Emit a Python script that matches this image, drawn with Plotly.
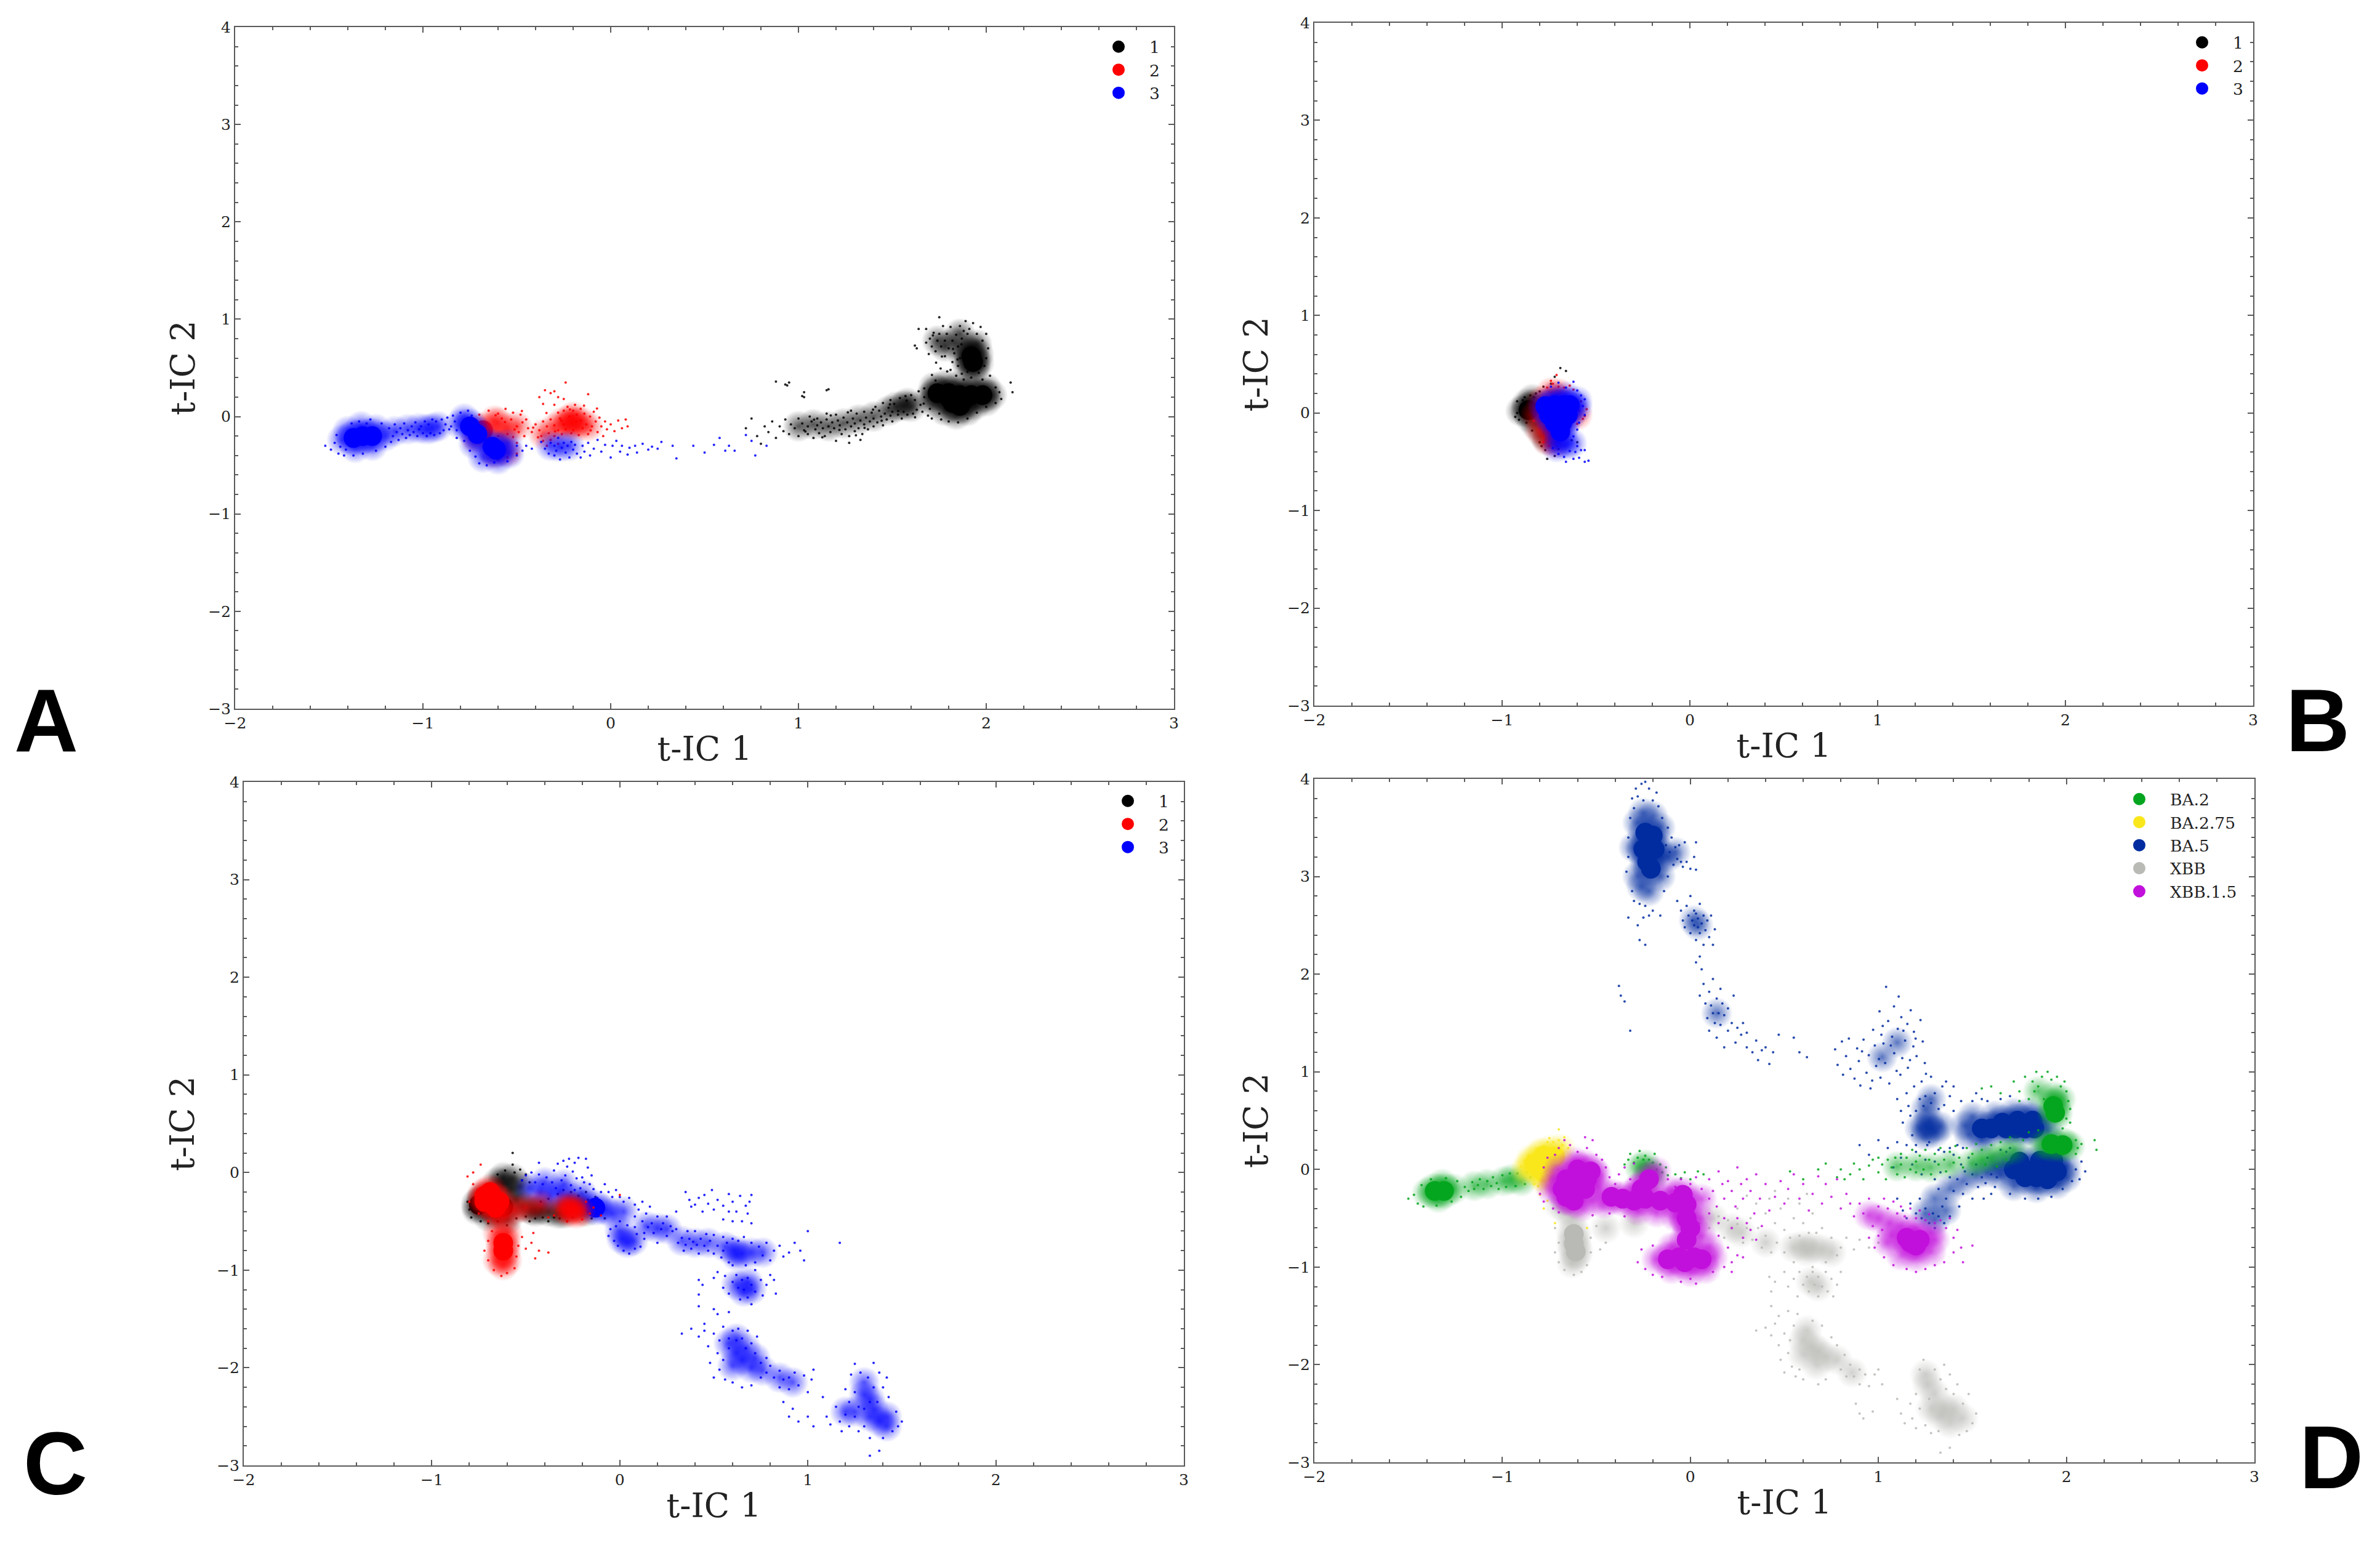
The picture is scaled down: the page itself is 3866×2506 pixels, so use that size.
import plotly.graph_objects as go

W, H = 3866, 2506
PAGE_MARGIN = 8
X_TICKS = [-2, -1, 0, 1, 2, 3]
Y_TICKS = [-3, -2, -1, 0, 1, 2, 3, 4]
LABELS_ABC = ["1", "2", "3"]
LABELS_D = ["BA.2", "BA.2.75", "BA.5", "XBB", "XBB.1.5"]

# ---------- Panel A (t-IC 1, t-IC 2) ----------
A1_CORE = [(1.74,0.24),(1.8,0.24),(1.86,0.22),(1.92,0.22),(1.98,0.22),(1.82,0.14),(1.86,0.11),(1.8,0.2),(1.88,0.17),(1.92,0.62),(1.93,0.56)]
A1_MID = [(1.7,0.2),(1.72,0.3),(1.78,0.33),(1.85,0.31),(1.93,0.3),(2.0,0.29),(2.03,0.22),(2.0,0.16),(1.94,0.12),(1.78,0.06),(1.84,0.02),(1.9,0.06),(1.72,0.14),
          (1.9,0.68),(1.92,0.72),(1.94,0.5),(1.9,0.5),(1.96,0.64),(1.96,0.55),(1.88,0.62),(1.95,0.74),(1.78,0.72),(1.83,0.76),(1.74,0.78),(1.86,0.85),
          (1.52,0.1),(1.56,0.11),(1.6,0.1),(1.58,0.14),(1.48,0.06),(1.4,0.0),(1.32,-0.03),(1.24,-0.07),(1.16,-0.1),(1.08,-0.08),(1.0,-0.1)]
A1_DOTS = [(0.88,0.36),(0.93,0.33),(0.95,0.35),(0.94,0.32),(1.02,0.21),(1.03,0.25),(1.15,0.27),(1.16,0.28),(1.03,0.2),
 (0.72,-0.12),(0.75,-0.02),(0.78,-0.2),(0.8,-0.28),(0.82,-0.1),(0.84,-0.16),(0.86,-0.05),(0.88,-0.22),(0.9,-0.1),(0.92,-0.15),(0.93,-0.03),(0.95,-0.18),(0.96,-0.08),(0.98,-0.12),
 (1.0,-0.02),(1.0,-0.2),(1.02,-0.07),(1.03,-0.14),(1.05,-0.1),(1.05,-0.18),(1.06,0.0),(1.07,-0.05),(1.08,-0.22),(1.09,-0.13),(1.1,-0.02),(1.1,-0.09),(1.11,-0.17),(1.12,-0.06),(1.13,-0.12),
 (1.14,-0.2),(1.15,0.03),(1.15,-0.03),(1.16,-0.1),(1.17,-0.16),(1.18,-0.06),(1.19,-0.12),(1.2,-0.25),(1.2,0.02),(1.21,-0.04),(1.22,-0.09),(1.23,-0.18),(1.24,-0.01),(1.25,-0.13),(1.26,-0.06),
 (1.27,-0.27),(1.27,-0.2),(1.28,0.06),(1.28,-0.1),(1.29,-0.02),(1.3,-0.15),(1.3,-0.07),(1.31,0.03),(1.32,-0.12),(1.33,-0.24),(1.33,-0.04),(1.34,-0.18),(1.35,-0.08),(1.35,0.05),(1.36,-0.01),
 (1.37,-0.13),(1.38,-0.05),(1.39,0.04),(1.4,-0.1),(1.4,-0.02),(1.41,0.1),(1.42,-0.06),(1.43,0.06),(1.44,0.0),(1.45,-0.09),(1.45,0.14),(1.46,0.03),(1.47,-0.03),(1.48,0.09),(1.49,0.01),(1.49,0.17),
 (1.5,0.05),(1.5,-0.05),(1.51,0.13),(1.53,0.02),(1.54,0.19),(1.55,-0.02),(1.56,0.05),(1.57,0.21),(1.58,0.02),(1.6,0.22),(1.61,0.03),(1.62,0.17),(1.63,0.07),(1.64,0.26),(1.65,0.12),(1.66,0.05),(1.67,0.29),(1.67,0.2),
 (1.69,0.01),(1.7,0.08),(1.71,-0.02),(1.73,0.37),(1.75,0.03),(1.76,-0.03),(1.8,-0.05),(1.85,-0.06),(1.9,-0.02),(1.95,0.04),(2.0,0.1),(2.05,0.14),(2.08,0.18),(2.05,0.3),(2.07,0.25),(2.13,0.35),(2.14,0.25),
 (1.62,0.73),(1.63,0.7),(1.64,0.9),(1.68,0.76),(1.68,0.9),(1.7,0.8),(1.71,0.72),(1.72,0.86),(1.73,0.67),(1.74,0.78),(1.75,0.85),(1.75,1.02),(1.76,0.72),(1.77,0.93),(1.78,0.62),(1.78,0.78),(1.79,0.85),
 (1.8,0.7),(1.81,0.48),(1.81,0.92),(1.82,0.56),(1.82,0.78),(1.83,0.65),(1.84,0.84),(1.84,0.42),(1.85,0.72),(1.85,0.52),(1.86,0.93),(1.86,0.6),(1.87,0.8),(1.87,0.44),(1.88,0.88),(1.88,0.38),(1.89,0.98),(1.9,0.46),(1.9,0.85),
 (1.91,0.9),(1.92,0.4),(1.93,0.96),(1.95,0.85),(1.96,0.45),(1.97,0.92),(1.98,0.78),(1.99,0.52),(2.0,0.6),(2.0,0.85),(2.01,0.7),(2.02,0.42),(1.98,0.38),
 (1.037,-0.153),(1.083,-0.031),(1.127,-0.213),(1.172,0.011),(1.218,-0.137),(1.263,0.043),(1.306,-0.193),(1.352,-0.116),(1.397,0.072),(1.443,-0.042),(1.487,0.126),(1.531,0.058),(1.576,0.163),(1.621,-0.007),(1.667,0.133),
 (1.711,0.427),(1.733,0.553),(1.764,0.617),(1.792,0.463),(1.823,0.694),(1.847,0.587),(1.868,0.742),(1.694,0.643),(1.716,0.834),(1.757,0.493)]
A2_CORE = [(-0.68,-0.14)]
A2_MID = [(-0.2,-0.06),(-0.18,-0.1),(-0.23,-0.1),(-0.22,-0.03),(-0.16,-0.05),(-0.26,-0.06),(-0.2,0.0),(-0.12,-0.1),(-0.3,-0.12),(-0.36,-0.18),(-0.6,-0.06),(-0.55,-0.12),(-0.5,-0.1),(-0.62,-0.38),(-0.55,-0.36),(-0.72,-0.22),(-0.62,-0.04),(-0.58,-0.2)]
A2_DOTS = [(-0.38,0.2),(-0.35,0.27),(-0.32,0.24),(-0.3,0.26),(-0.28,0.2),(-0.25,0.18),(-0.24,0.35),(-0.36,0.13),(-0.3,0.12),(-0.12,0.23),
 (-0.7,0.02),(-0.65,0.06),(-0.6,0.03),(-0.56,0.08),(-0.52,0.04),(-0.48,0.02),(-0.58,-0.02),(-0.53,-0.03),(-0.47,-0.06),(-0.5,-0.1),(-0.45,-0.03),(-0.44,-0.12),(-0.49,-0.16),(-0.46,-0.2),(-0.42,-0.16),(-0.52,-0.21),(-0.55,-0.18),(-0.6,-0.2),(-0.5,-0.27),
 (-0.4,-0.08),(-0.38,-0.14),(-0.36,-0.05),(-0.37,-0.2),(-0.34,-0.1),(-0.33,-0.17),(-0.32,-0.03),(-0.32,-0.24),(-0.3,-0.09),(-0.3,-0.2),(-0.28,-0.14),(-0.28,0.04),(-0.27,-0.02),(-0.26,-0.18),(-0.25,-0.08),(-0.25,0.06),(-0.24,-0.13),
 (-0.23,0.1),(-0.22,0.0),(-0.21,-0.17),(-0.2,0.06),(-0.2,-0.14),(-0.19,0.12),(-0.18,0.02),(-0.17,-0.19),(-0.16,-0.04),(-0.16,0.08),(-0.15,-0.12),(-0.14,0.03),(-0.13,-0.08),(-0.12,-0.18),(-0.11,0.0),(-0.1,-0.1),(-0.09,0.05),(-0.08,-0.05),
 (-0.07,-0.16),(-0.06,-0.01),(-0.05,-0.1),(-0.04,-0.2),(-0.03,-0.05),(-0.02,-0.13),(0.0,-0.08),(0.02,-0.15),(0.04,-0.04),(0.06,-0.12),(0.09,-0.1),(0.08,-0.03),(-0.36,-0.25),(-0.28,-0.28),(-0.34,-0.3),(-0.6,-0.44),(-0.55,-0.42),(-0.5,-0.38),
 (-0.413,-0.113),(-0.387,-0.213),(-0.342,0.037),(-0.296,-0.151),(-0.263,-0.043),(-0.217,0.073),(-0.183,-0.053),(-0.142,0.112),(-0.107,-0.142),(-0.073,0.083),(-0.512,-0.133),(-0.473,0.057),(-0.563,-0.057),(-0.613,0.013)]
A3_CORE = [(-1.37,-0.22),(-1.32,-0.2),(-1.27,-0.2),(-0.75,-0.1),(-0.71,-0.18),(-0.63,-0.31),(-0.61,-0.34)]
A3_MID = [(-1.43,-0.24),(-1.4,-0.15),(-1.33,-0.1),(-1.25,-0.13),(-1.2,-0.2),(-1.36,-0.32),(-1.27,-0.3),(-1.15,-0.15),(-1.08,-0.13),(-1.02,-0.12),(-0.95,-0.12),(-0.92,-0.1),(-0.98,-0.13),(-0.8,-0.08),(-0.78,-0.02),(-0.73,-0.28),(-0.55,-0.28),(-0.54,-0.38),(-0.68,-0.42),(-0.6,-0.44),(-0.27,-0.31),(-0.22,-0.3),(-0.32,-0.3)]
A3_DOTS = [(-1.52,-0.3),(-1.49,-0.34),(-1.47,-0.27),(-1.46,-0.19),(-1.45,-0.38),(-1.44,-0.31),(-1.42,-0.4),(-1.41,-0.34),(-1.38,-0.07),(-1.37,-0.4),(-1.34,-0.05),(-1.32,-0.38),(-1.3,-0.07),(-1.28,-0.03),(-1.25,-0.35),(-1.22,-0.07),(-1.2,-0.31),(-1.18,-0.12),(-1.17,-0.26),
 (-1.16,-0.2),(-1.15,-0.08),(-1.14,-0.16),(-1.13,-0.24),(-1.12,-0.12),(-1.11,-0.18),(-1.1,-0.07),(-1.09,-0.22),(-1.08,-0.14),(-1.07,-0.19),(-1.06,-0.1),(-1.05,-0.16),(-1.04,-0.06),(-1.03,-0.2),(-1.02,-0.13),(-1.01,-0.1),(-1.0,-0.17),(-0.99,-0.05),(-0.98,-0.2),(-0.97,-0.08),(-0.96,-0.17),(-0.95,-0.03),
 (-0.94,-0.19),(-0.93,-0.05),(-0.91,-0.17),(-0.9,-0.03),(-0.89,-0.14),(-0.88,-0.08),(-0.87,-0.01),(-0.86,-0.13),(-0.85,-0.1),(-0.84,0.01),(-0.83,-0.05),(-0.82,-0.14),(-0.8,0.04),(-0.76,0.06),(-0.74,0.01),(-0.82,-0.22),(-0.78,-0.25),(-0.75,-0.35),(-0.72,-0.41),(-0.7,-0.48),(-0.66,-0.5),(-0.62,-0.47),(-0.55,-0.46),(-0.5,-0.4),(-0.5,-0.3),(-0.47,-0.35),(-0.45,-0.3),(-0.42,-0.33),
 (-0.37,-0.26),(-0.35,-0.33),(-0.33,-0.38),(-0.32,-0.27),(-0.3,-0.4),(-0.3,-0.3),(-0.29,-0.35),(-0.28,-0.22),(-0.27,-0.44),(-0.26,-0.32),(-0.25,-0.27),(-0.24,-0.37),(-0.23,-0.3),(-0.22,-0.42),(-0.21,-0.26),(-0.2,-0.34),(-0.19,-0.29),(-0.18,-0.38),(-0.16,-0.42),(-0.15,-0.3),(-0.14,-0.36),(-0.12,-0.27),(-0.11,-0.4),(-0.09,-0.33),(-0.07,-0.24),(-0.05,-0.36),(-0.03,-0.29),
 (0.0,-0.42),(0.01,-0.3),(0.03,-0.25),(0.05,-0.36),(0.06,-0.3),(0.09,-0.39),(0.1,-0.32),(0.13,-0.3),(0.14,-0.37),(0.17,-0.28),(0.2,-0.34),(0.22,-0.31),(0.25,-0.33),(0.27,-0.26),(0.33,-0.3),(0.35,-0.43),(0.44,-0.3),(0.5,-0.37),(0.55,-0.29),(0.58,-0.22),(0.61,-0.35),(0.63,-0.3),(0.66,-0.35),(0.72,-0.19),(0.75,-0.25),(0.77,-0.4),(0.83,-0.3)]

# ---------- Panel B ----------
B1_CORE = [(-0.86,0.03)]
B1_MID = [(-0.87,0.09),(-0.83,0.09),(-0.9,0.02),(-0.85,-0.05),(-0.82,-0.12),(-0.78,-0.22),(-0.76,-0.27),(-0.84,0.14)]
B1_DOTS = [(-0.92,0.0),(-0.93,-0.04),(-0.92,0.12),(-0.91,-0.07),(-0.89,0.13),(-0.88,0.16),(-0.87,-0.1),(-0.85,0.18),(-0.83,0.16),(-0.82,0.2),(-0.8,0.22),(-0.78,0.27),(-0.72,0.37),(-0.69,0.46),(-0.66,0.43),(-0.74,0.3),(-0.84,-0.18),(-0.8,-0.3),(-0.79,-0.34),(-0.77,-0.38),(-0.76,-0.47),(-0.72,-0.44),(-0.7,-0.37),(-0.63,-0.28),(-0.6,-0.3)]
B2_CORE = [(-0.74,0.0),(-0.72,-0.14)]
B2_MID = [(-0.76,-0.28),(-0.72,-0.31),(-0.7,0.2),(-0.74,0.21),(-0.79,0.12),(-0.82,-0.02),(-0.8,-0.17),(-0.6,-0.02)]
B2_DOTS = [(-0.76,0.26),(-0.73,0.3),(-0.7,0.27),(-0.67,0.26),(-0.64,0.28),(-0.62,0.24),(-0.71,0.39),(-0.74,0.33),(-0.58,0.12),(-0.55,0.04),(-0.57,-0.06),(-0.6,-0.11),(-0.56,-0.03),(-0.59,0.02),(-0.83,-0.08),(-0.78,-0.3),(-0.75,-0.34),(-0.7,-0.28)]
B3_CORE = [(-0.77,0.07),(-0.72,0.08),(-0.67,0.08),(-0.64,0.08),(-0.75,-0.02),(-0.7,-0.01),(-0.65,-0.02),(-0.72,-0.1),(-0.68,-0.1),(-0.69,-0.19)]
B3_MID = [(-0.7,-0.3),(-0.66,-0.33),(-0.63,-0.31),(-0.71,-0.35),(-0.6,0.05),(-0.6,0.12),(-0.72,0.16),(-0.66,0.17)]
B3_DOTS = [(-0.74,0.27),(-0.7,0.31),(-0.66,0.26),(-0.62,0.32),(-0.6,0.23),(-0.58,0.18),(-0.56,0.14),(-0.57,0.07),(-0.56,-0.02),(-0.59,-0.1),(-0.6,-0.17),(-0.62,-0.24),(-0.73,-0.36),(-0.7,-0.42),(-0.67,-0.45),(-0.64,-0.39),(-0.61,-0.4),(-0.58,-0.38),(-0.62,-0.47),(-0.59,-0.46),(-0.56,-0.38),(-0.56,-0.5),(-0.54,-0.49),(-0.66,-0.5),(-0.6,-0.34)]

# ---------- Panel C ----------
C1_CORE = [(-0.72,-0.27),(-0.62,-0.35),(-0.75,-0.33)]
C1_MID = [(-0.76,-0.38),(-0.7,-0.45),(-0.62,-0.12),(-0.58,-0.18),(-0.55,-0.28),(-0.62,-0.05),(-0.57,-0.06),(-0.66,-0.43),(-0.6,-0.48),(-0.52,-0.35),(-0.47,-0.38),(-0.42,-0.38),(-0.38,-0.4),(-0.22,-0.32),(-0.3,-0.42),(-0.65,-0.1),(-0.53,-0.14),(-0.45,-0.4),(-0.33,-0.42),(-0.26,-0.35),(-0.18,-0.4)]
C1_DOTS = [(-0.57,0.2),(-0.57,0.08),(-0.65,-0.02),(-0.61,0.02),(-0.56,0.0),(-0.53,0.03),(-0.52,-0.08),(-0.5,-0.02),(-0.48,-0.1),(-0.8,-0.38),(-0.81,-0.3),(-0.79,-0.46),(-0.74,-0.5),(-0.7,-0.52),(-0.65,-0.5),(-0.6,-0.54),(-0.55,-0.47),(-0.5,-0.45),(-0.48,-0.5),(-0.45,-0.47),(-0.41,-0.46),(-0.38,-0.5),(-0.35,-0.46),(-0.32,-0.47),(-0.28,-0.5),(-0.25,-0.46),(-0.42,-0.3),(-0.38,-0.27),(-0.33,-0.22),(-0.3,-0.18),(-0.26,-0.2),(-0.22,-0.24),(-0.17,-0.28),(-0.17,-0.4),(-0.15,-0.47),(-0.12,-0.33),(-0.1,-0.42),(-0.08,-0.47),(-0.13,-0.25),(-0.18,-0.2)]
C2_CORE = [(-0.72,-0.24),(-0.68,-0.27),(-0.64,-0.3),(-0.72,-0.3),(-0.62,-0.72),(-0.62,-0.8),(-0.69,-0.2),(-0.66,-0.36)]
C2_MID = [(-0.66,-0.42),(-0.61,-0.44),(-0.56,-0.38),(-0.5,-0.36),(-0.42,-0.33),(-0.3,-0.37),(-0.26,-0.38),(-0.24,-0.36),(-0.27,-0.41),(-0.21,-0.4),(-0.65,-0.62),(-0.6,-0.62),(-0.65,-0.9),(-0.6,-0.9),(-0.62,-0.95),(-0.28,-0.33),(-0.23,-0.42)]
C2_DOTS = [(-0.74,0.08),(-0.78,0.0),(-0.81,-0.04),(-0.78,-0.12),(-0.8,-0.3),(-0.75,-0.42),(-0.7,-0.5),(-0.68,-0.6),(-0.7,-0.7),(-0.72,-0.8),(-0.7,-0.9),(-0.67,-1.0),(-0.63,-1.06),(-0.6,-1.03),(-0.56,-0.98),(-0.55,-0.86),(-0.54,-0.75),(-0.52,-0.66),(-0.5,-0.78),(-0.47,-0.72),(-0.46,-0.62),(-0.43,-0.8),(-0.45,-0.88),(-0.38,-0.82),(-0.38,-0.46),(-0.35,-0.44),(-0.18,-0.3),(-0.16,-0.42),(-0.14,-0.36),(-0.1,-0.44),(-0.2,-0.48),(-0.28,-0.5),(0.0,-0.23)]
C3_CORE = [(-0.13,-0.36)]
C3_MID = [(-0.48,-0.16),(-0.42,-0.2),(-0.37,-0.24),(-0.32,-0.2),(-0.27,-0.25),(-0.4,-0.1),(-0.3,-0.12),(-0.2,-0.22),(-0.18,-0.33),(-0.08,-0.38),(-0.04,-0.42),(0.02,-0.4),(0.0,-0.6),(0.01,-0.68),(0.04,-0.72),(0.07,-0.7),(0.14,-0.55),(0.2,-0.57),(0.25,-0.58),(0.33,-0.7),(0.4,-0.72),(0.47,-0.72),(0.56,-0.76),(0.61,-0.8),(0.65,-0.83),(0.7,-0.82),(0.76,-0.82),(0.62,-0.85),(0.62,-1.15),(0.66,-1.22),(0.7,-1.2),(0.68,-1.12),(0.58,-1.75),(0.62,-1.7),(0.67,-1.8),(0.72,-1.9),(0.62,-1.85),(0.65,-1.92),(0.7,-2.0),(0.6,-1.98),(0.76,-2.03),(0.85,-2.1),(0.92,-2.15),(1.33,-2.5),(1.38,-2.55),(1.42,-2.5),(1.35,-2.42),(1.3,-2.15),(1.3,-2.28),(1.33,-2.32),(1.2,-2.45),(1.25,-2.45),(1.42,-2.6)]
C3_DOTS = [(-0.43,0.1),(-0.35,0.02),(-0.33,0.09),(-0.3,0.12),(-0.28,0.06),(-0.27,0.14),(-0.25,0.01),(-0.24,0.1),(-0.23,-0.06),(-0.22,0.15),(-0.2,-0.05),(-0.19,-0.1),(-0.18,0.14),(-0.17,0.05),(-0.16,-0.12),(-0.15,-0.03),(-0.14,-0.17),(-0.52,-0.08),(-0.5,-0.03),(-0.47,0.0),(-0.45,-0.1),(-0.43,-0.02),(-0.41,-0.12),(-0.39,-0.05),(-0.36,-0.1),(-0.34,-0.16),(-0.31,-0.08),(-0.29,-0.03),(-0.26,-0.13),(-0.24,-0.18),(-0.21,-0.16),(-0.12,-0.26),(-0.1,-0.2),(-0.08,-0.12),(-0.06,-0.2),(-0.04,-0.25),(-0.02,-0.18),
 (0.0,-0.25),(0.02,-0.3),(0.05,-0.26),(0.08,-0.33),(0.08,-0.45),(0.1,-0.38),(0.12,-0.3),(0.12,-0.5),(0.14,-0.42),(0.15,-0.56),(0.16,-0.35),(0.08,-0.56),(0.04,-0.54),(0.0,-0.5),(-0.02,-0.55),(-0.05,-0.58),(-0.06,-0.65),(-0.03,-0.7),(-0.01,-0.75),(0.02,-0.8),(0.05,-0.83),(0.08,-0.78),(0.11,-0.76),(0.13,-0.68),(0.13,-0.62),(0.09,-0.63),
 (0.17,-0.52),(0.18,-0.62),(0.2,-0.45),(0.2,-0.72),(0.22,-0.58),(0.23,-0.52),(0.25,-0.65),(0.25,-0.45),(0.27,-0.55),(0.28,-0.6),(0.3,-0.58),(0.31,-0.72),(0.3,-0.4),(0.33,-0.67),(0.34,-0.8),(0.35,-0.74),(0.36,-0.6),(0.37,-0.68),(0.38,-0.78),(0.39,-0.71),(0.4,-0.6),(0.41,-0.74),(0.42,-0.83),(0.43,-0.68),(0.45,-0.75),(0.46,-0.63),(0.47,-0.8),(0.48,-0.7),(0.5,-0.83),(0.5,-0.64),(0.52,-0.75),(0.54,-0.87),(0.55,-0.66),(0.55,-0.8),(0.57,-0.72),(0.58,-0.92),(0.6,-0.68),(0.6,-0.95),(0.63,-0.7),(0.66,-0.66),(0.67,-0.95),(0.7,-0.72),(0.72,-0.92),(0.74,-0.76),(0.76,-0.85),(0.78,-0.72),(0.8,-0.9),(0.82,-0.8),(0.85,-0.75),(0.87,-0.86),(0.9,-0.82),(0.93,-0.72),(0.96,-0.8),(0.98,-0.9),(1.0,-0.6),(1.17,-0.72),
 (0.35,-0.2),(0.37,-0.28),(0.38,-0.35),(0.4,-0.33),(0.42,-0.26),(0.44,-0.4),(0.45,-0.23),(0.47,-0.32),(0.49,-0.18),(0.5,-0.38),(0.52,-0.28),(0.55,-0.34),(0.55,-0.48),(0.58,-0.22),(0.58,-0.4),(0.6,-0.3),(0.6,-0.5),(0.62,-0.4),(0.64,-0.24),(0.65,-0.5),(0.67,-0.34),(0.68,-0.42),(0.7,-0.23),(0.7,-0.52),(0.69,-0.3),
 (0.42,-1.1),(0.42,-1.25),(0.44,-1.15),(0.5,-1.08),(0.52,-1.02),(0.55,-1.18),(0.56,-1.06),(0.58,-1.24),(0.6,-1.12),(0.62,-1.05),(0.63,-1.18),(0.64,-1.3),(0.65,-1.1),(0.66,-1.2),(0.68,-1.28),(0.68,-1.08),(0.7,-1.15),(0.7,-1.35),(0.72,-1.22),(0.72,-1.0),(0.75,-1.1),(0.76,-1.26),(0.78,-1.15),(0.8,-1.05),(0.82,-1.1),(0.83,-1.24),(0.42,-1.37),(0.5,-1.4),(0.52,-1.45),(0.58,-1.43),
 (0.33,-1.65),(0.38,-1.6),(0.42,-1.68),(0.45,-1.55),(0.45,-1.62),(0.47,-1.78),(0.48,-1.95),(0.5,-1.65),(0.5,-2.1),(0.52,-1.85),(0.53,-1.72),(0.53,-2.02),(0.55,-1.58),(0.55,-1.92),(0.56,-2.12),(0.58,-1.7),(0.58,-1.8),(0.6,-1.62),(0.6,-2.15),(0.62,-1.72),(0.63,-1.6),(0.65,-1.7),(0.65,-2.2),(0.67,-1.8),(0.68,-1.62),(0.7,-1.75),(0.7,-2.18),(0.72,-1.85),(0.73,-1.68),(0.75,-1.95),(0.75,-2.1),(0.78,-1.9),(0.78,-2.05),(0.8,-1.98),(0.82,-2.1),(0.85,-2.03),(0.85,-2.2),(0.87,-2.12),(0.9,-2.1),(0.9,-2.22),(0.93,-2.05),(0.95,-2.18),(0.98,-2.08),(1.0,-2.25),(1.02,-2.12),(1.03,-2.02),(0.87,-2.35),(0.9,-2.5),(0.92,-2.42),(0.95,-2.55),(1.0,-2.5),(1.03,-2.6),
 (1.08,-2.3),(1.1,-2.5),(1.12,-2.58),(1.15,-2.4),(1.17,-2.55),(1.18,-2.65),(1.2,-2.48),(1.2,-2.22),(1.22,-2.6),(1.22,-2.35),(1.23,-2.07),(1.25,-2.5),(1.25,-2.25),(1.25,-1.96),(1.27,-2.65),(1.27,-2.4),(1.28,-2.05),(1.3,-2.6),(1.3,-2.42),(1.32,-2.1),(1.33,-2.35),(1.33,-2.72),(1.35,-2.2),(1.35,-1.95),(1.37,-2.35),(1.38,-2.05),(1.4,-2.2),(1.4,-2.72),(1.42,-2.1),(1.43,-2.3),(1.45,-2.65),(1.47,-2.45),(1.48,-2.6),(1.5,-2.55),(1.38,-2.85),(1.33,-2.9)]

# ---------- Panel D ----------
D_G_CORE = [(-1.36,-0.22),(-1.31,-0.22),(1.93,0.65),(1.94,0.58),(1.92,0.26),(1.98,0.25)]
D_G_MID = [(-1.26,-0.2),(-1.4,-0.24),(-1.32,-0.15),(-1.34,-0.29),(-1.15,-0.17),(-1.08,-0.15),(-0.99,-0.12),(-0.95,-0.1),(-0.9,-0.12),(-0.27,0.02),(-0.22,-0.02),(-0.24,0.05),(-0.2,-0.06),(1.87,0.25),(2.02,0.24),(1.93,0.75),(1.6,0.12),(1.66,0.16),(1.55,0.1),(1.5,0.06),(1.72,0.2),(1.28,0.02),(1.38,0.05),(1.2,0.03),(1.1,0.03),(1.85,0.8),(1.97,0.72)]
D_G_DOTS = [(-1.5,-0.3),(-1.47,-0.26),(-1.45,-0.35),(-1.43,-0.16),(-1.42,-0.38),(-1.38,-0.1),(-1.35,-0.37),(-1.3,-0.09),(-1.27,-0.33),(-1.24,-0.12),(-1.22,-0.28),(-1.2,-0.18),(-1.18,-0.22),(-1.16,-0.13),(-1.15,-0.2),(-1.13,-0.16),(-1.12,-0.1),(-1.1,-0.2),(-1.08,-0.12),(-1.06,-0.17),(-1.05,-0.08),(-1.03,-0.14),(-1.02,-0.2),(-1.0,-0.06),(-0.98,-0.18),(-0.96,-0.04),(-0.93,-0.17),(-0.92,-0.04),(-0.88,-0.15),(-0.87,-0.03),(-0.85,-0.08),
 (-0.35,0.05),(-0.33,0.1),(-0.32,0.16),(-0.3,0.07),(-0.28,0.12),(-0.27,0.19),(-0.25,0.1),(-0.24,0.14),(-0.22,0.1),(-0.2,0.07),(-0.19,0.16),(-0.18,0.0),(-0.16,0.05),(-0.15,-0.03),(-0.13,0.02),(-0.12,-0.06),(-0.08,-0.05),(-0.05,-0.09),(-0.03,-0.03),(0.0,-0.1),(0.04,-0.02),(0.07,-0.05),
 (0.53,-0.02),(0.6,-0.1),(0.68,0.0),(0.72,0.06),(0.78,-0.08),(0.8,0.0),(0.82,-0.1),(0.85,-0.05),(0.87,0.06),(0.9,0.0),(0.92,-0.1),(0.95,0.04),(0.97,0.1),(1.0,-0.03),(1.0,0.12),(1.02,0.05),(1.04,-0.1),(1.05,0.1),(1.07,0.02),(1.09,0.12),(1.1,-0.05),(1.12,0.16),(1.12,0.05),(1.14,-0.08),(1.15,0.12),(1.17,0.0),(1.18,0.2),(1.2,0.08),(1.2,-0.03),(1.22,0.14),(1.24,0.0),(1.25,0.2),(1.27,0.1),(1.28,-0.05),(1.3,0.16),(1.32,0.05),(1.33,0.22),(1.35,0.1),(1.36,-0.02),(1.38,0.18),(1.4,0.07),(1.41,0.24),(1.43,0.12),(1.45,0.02),(1.47,0.22),(1.5,0.16),(1.52,0.26),(1.55,0.2),(1.57,0.05),(1.6,0.25),(1.63,0.03),(1.65,0.28),(1.68,0.1),(1.7,0.33),
 (1.72,0.9),(1.75,0.8),(1.78,0.95),(1.8,0.72),(1.82,0.9),(1.83,0.8),(1.84,1.0),(1.85,0.85),(1.87,0.95),(1.88,0.72),(1.9,1.0),(1.92,0.92),(1.95,0.95),(1.97,0.85),(1.99,0.9),(2.0,0.8),(2.01,0.7),(2.02,0.62),(2.0,0.52),(2.02,0.48),(1.98,0.42),(1.75,0.7),(1.65,0.78),(1.6,0.85),(1.55,0.83),(2.05,0.3),(2.06,0.22),(2.08,0.26),(2.05,0.16),(2.15,0.3),(2.16,0.2),(1.85,0.4),(1.8,0.38),(1.77,0.3)]
D_Y_CORE = [(-0.81,0.02),(-0.76,0.08),(-0.72,0.13),(-0.83,0.06),(-0.78,0.14),(-0.78,-0.03)]
D_Y_MID = [(-0.87,0.02),(-0.85,0.1),(-0.8,0.17),(-0.74,0.2),(-0.69,0.21),(-0.8,-0.06),(-0.77,-0.12),(-0.88,-0.03)]
D_Y_DOTS = [(-0.9,0.03),(-0.88,0.09),(-0.86,0.14),(-0.83,0.16),(-0.82,0.21),(-0.78,0.24),(-0.76,0.28),(-0.73,0.28),(-0.7,0.3),(-0.68,0.25),(-0.65,0.22),(-0.7,0.41),(-0.67,0.33),(-0.75,0.32),(-0.81,-0.17),(-0.8,-0.26),(-0.83,-0.15),(-0.76,-0.32),(-0.72,-0.55),(-0.55,-0.6),(-0.78,-0.4)]
D_N_CORE = [(-0.24,3.45),(-0.22,3.35),(-0.22,3.25),(-0.23,3.15),(-0.2,3.42),(-0.21,3.08),(-0.25,3.28),(-0.19,3.28),
 (1.73,0.42),(1.78,0.42),(1.83,0.42),(1.68,0.42),(1.72,0.0),(1.78,0.0),(1.85,0.0),(1.92,0.02),(1.95,-0.02),(1.78,-0.08),(1.84,-0.08),(1.9,-0.1),(1.75,0.08),(1.86,0.09),(1.93,0.09),
 (1.55,0.42),(1.6,0.42),(1.66,0.48),(1.74,0.5),(1.82,0.5)]
D_N_MID = [(-0.25,3.65),(-0.2,3.62),(-0.16,3.5),(-0.28,3.0),(-0.26,2.9),(-0.3,3.3),(-0.15,3.2),(-0.16,3.0),(-0.22,2.85),(-0.28,3.55),(-0.12,3.2),(-0.08,3.25),(0.02,2.55),(0.04,2.5),(0.14,1.6),
 (1.28,0.42),(1.25,0.45),(1.22,0.42),(1.3,0.38),(1.25,0.35),(1.33,0.44),(1.27,0.5),(1.46,0.45),(1.48,0.36),(1.5,0.54),(1.55,0.3),(1.62,0.55),(1.72,0.58),(1.8,0.58),(1.87,0.5),(1.9,0.4),(1.66,0.05),(1.65,-0.06),(1.72,-0.17),(1.84,-0.19),(2.0,0.03),(2.0,-0.08),(1.95,-0.15),(1.62,0.03),(1.58,-0.03),(1.52,-0.05),(1.45,-0.12),(1.38,-0.2),(1.3,-0.3),(1.25,-0.45),(1.3,-0.52),(1.36,-0.42),(1.28,0.72),(1.25,0.62),(1.02,1.15),(1.1,1.3)]
D_N_DOTS = [(-0.33,3.2),(-0.34,3.05),(-0.33,3.4),(-0.32,3.6),(-0.31,2.85),(-0.31,3.8),(-0.3,2.75),(-0.3,3.7),(-0.29,3.9),(-0.28,3.82),(-0.27,2.72),(-0.26,3.95),(-0.25,3.78),(-0.24,3.97),(-0.22,3.9),(-0.24,2.7),(-0.2,3.78),(-0.18,3.86),(-0.17,3.72),(-0.15,3.6),(-0.12,3.5),(-0.1,3.4),(-0.14,2.85),(-0.13,3.32),(-0.11,3.25),(-0.08,3.3),(-0.06,3.32),(-0.05,3.15),(-0.03,3.35),(-0.07,3.18),(-0.09,3.12),(-0.04,3.1),(-0.02,3.15),(0.0,3.08),(0.02,3.2),(0.03,3.35),(0.03,3.07),(-0.12,3.0),(-0.2,2.65),(-0.16,2.6),(-0.25,2.58),(-0.28,2.5),(-0.33,2.58),(-0.27,2.35),(-0.24,2.3),(-0.22,2.6),
 (-0.07,2.75),(-0.05,2.65),(-0.04,2.55),(-0.03,2.48),(-0.02,2.7),(-0.01,2.6),(0.0,2.42),(0.0,2.8),(0.01,2.55),(0.02,2.5),(0.02,2.65),(0.03,2.35),(0.03,2.62),(0.04,2.48),(0.04,2.57),(0.05,2.72),(0.05,2.42),(0.06,2.52),(0.07,2.6),(0.07,2.3),(0.08,2.45),(0.09,2.55),(0.1,2.38),(0.11,2.6),(0.12,2.3),(0.13,2.46),(0.03,2.12),(0.05,2.18),(0.06,2.05),
 (-0.38,1.88),(-0.37,1.78),(-0.35,1.72),(-0.32,1.42),(0.05,1.78),(0.07,1.9),(0.08,1.7),(0.09,1.55),(0.1,1.82),(0.1,1.42),(0.11,1.68),(0.12,1.6),(0.12,1.95),(0.13,1.5),(0.14,1.75),(0.14,1.35),(0.15,1.6),(0.16,1.85),(0.16,1.48),(0.17,1.7),(0.18,1.58),(0.18,1.25),(0.2,1.65),(0.2,1.42),(0.22,1.5),(0.23,1.78),(0.24,1.3),(0.25,1.45),(0.27,1.38),(0.28,1.5),(0.3,1.25),(0.3,1.4),(0.33,1.2),(0.35,1.32),(0.36,1.12),(0.38,1.22),(0.4,1.25),(0.42,1.08),(0.44,1.2),(0.47,1.38),(0.55,1.35),(0.58,1.2),(0.62,1.15),
 (0.77,1.23),(0.783,1.07),(0.806,1.31),(0.812,0.97),(0.828,1.16),(0.843,1.34),(0.851,1.03),(0.873,0.93),(0.887,1.24),(0.896,1.11),(0.904,0.86),(0.921,1.33),(0.937,0.99),(0.949,1.17),(0.958,0.83),(0.972,1.43),(0.981,1.27),(0.988,1.06),(1.003,1.13),(1.011,0.94),(1.006,1.62),(1.023,1.47),(1.027,1.29),(1.036,1.09),(1.041,1.87),(1.052,1.52),(1.058,0.88),(1.073,1.36),(1.084,1.19),(1.083,1.67),(1.097,1.01),(1.103,1.44),(1.108,1.77),(1.122,1.56),(1.127,1.14),(1.142,1.32),(1.154,1.49),(1.157,1.04),(1.172,1.63),(1.186,1.26),(1.189,1.41),(1.203,1.16),(1.224,1.53),(1.236,1.31),(1.247,1.09),(1.253,0.98),(0.913,1.21),(0.967,0.91),(1.016,1.38),(1.066,1.27),(1.117,0.97),(1.133,1.42),(1.168,1.12),(1.198,1.34),
 (1.1,0.72),(1.12,0.6),(1.13,0.48),(1.15,0.78),(1.16,0.65),(1.17,0.55),(1.18,0.35),(1.19,0.85),(1.2,0.6),(1.2,0.25),(1.22,0.72),(1.23,0.9),(1.24,0.65),(1.25,0.75),(1.26,0.25),(1.28,0.95),(1.28,0.68),(1.3,0.78),(1.32,0.62),(1.32,0.2),(1.34,0.85),(1.35,0.66),(1.36,0.9),(1.38,0.75),(1.38,0.22),(1.4,0.6),(1.4,0.85),(1.42,0.25),(1.44,0.7),(1.45,0.22),(1.5,0.7),(1.52,0.78),(1.55,0.72),(1.58,0.7),(1.65,0.72),(1.7,0.75),
 (0.9,0.25),(0.95,0.15),(1.0,0.3),(1.05,0.22),(1.08,0.02),(1.1,0.28),(1.12,0.12),(1.15,0.25),(1.18,0.05),(1.2,0.18),(1.23,-0.05),(1.25,0.1),(1.27,0.28),(1.3,-0.1),(1.3,0.08),(1.32,-0.2),(1.33,-0.03),(1.35,0.18),(1.36,-0.3),(1.38,-0.08),(1.4,-0.22),(1.4,0.15),(1.42,-0.1),(1.43,-0.38),(1.44,0.05),(1.45,-0.25),(1.46,-0.02),(1.47,-0.15),(1.48,0.12),(1.5,-0.3),(1.5,-0.05),(1.52,0.05),(1.53,-0.18),(1.55,-0.08),(1.56,-0.3),(1.57,-0.14),(1.58,0.12),(1.6,-0.05),(1.62,-0.18),(1.63,-0.08),(1.65,0.2),(1.68,0.18),(1.6,-0.25),(1.7,0.22),
 (1.1,-0.3),(1.13,-0.42),(1.15,-0.5),(1.17,-0.35),(1.2,-0.45),(1.22,-0.3),(1.23,-0.5),(1.25,-0.4),(1.27,-0.55),(1.29,-0.45),(1.3,-0.6),(1.32,-0.48),(1.34,-0.38),(1.35,-0.55),(1.38,-0.48),(2.05,0.0),(2.07,-0.1),(2.08,0.08),(2.1,-0.02),(1.7,-0.25),(1.78,-0.3),(1.85,-0.3),(1.92,-0.28),(1.98,-0.2),(2.03,-0.12)]
D_X_CORE = [(-0.62,-0.76),(-0.62,-0.66),(-0.61,-0.84)]
D_X_MID = [(-0.7,-0.36),(-0.66,-0.42),(-0.63,-0.5),(-0.61,-0.9),(-0.63,-0.96),(0.55,-0.8),(0.62,-0.84),(0.65,-0.8),(0.7,-0.82),(0.75,-0.85),(0.6,-0.78),(0.64,-1.15),(0.68,-1.2),(0.6,-1.75),(0.62,-1.65),(0.6,-1.9),(0.65,-1.82),(0.68,-1.86),(0.72,-1.92),(0.78,-1.95),(0.67,-2.0),(0.86,-2.08),(1.26,-2.2),(1.25,-2.1),(1.3,-2.3),(1.35,-2.45),(1.33,-2.52),(1.4,-2.45),(1.38,-2.6),(1.28,-2.45),(1.45,-2.55),(-0.45,-0.6),(-0.3,-0.55),(0.22,-0.6),(0.27,-0.65),(0.12,-0.5),(0.4,-0.75)]
D_X_DOTS = [(-0.72,-0.6),(-0.7,-0.75),(-0.72,-0.85),(-0.7,-0.95),(-0.67,-1.03),(-0.62,-1.08),(-0.58,-1.05),(-0.55,-0.98),(-0.53,-0.85),(-0.53,-0.7),(-0.48,-0.82),(-0.45,-0.75),(-0.5,-0.58),
 (0.05,-0.55),(0.1,-0.6),(0.15,-0.48),(0.18,-0.7),(0.2,-0.52),(0.25,-0.56),(0.28,-0.75),(0.3,-0.6),(0.32,-0.5),(0.33,-0.72),(0.35,-0.35),(0.36,-0.6),(0.38,-0.8),(0.4,-0.45),(0.4,-0.68),(0.42,-0.3),(0.43,-0.85),(0.45,-0.55),(0.46,-0.75),(0.48,-0.4),(0.5,-0.62),(0.5,-0.85),(0.52,-0.3),(0.53,-0.7),(0.55,-0.5),(0.55,-0.95),(0.58,-0.35),(0.58,-0.68),(0.6,-0.55),(0.62,-0.25),(0.63,-0.65),(0.65,-0.45),(0.65,-1.0),(0.67,-0.65),(0.7,-0.6),(0.72,-0.95),(0.75,-0.7),(0.78,-0.88),(0.8,-0.8),(0.83,-0.7),(0.87,-0.82),(0.9,-0.72),(0.95,-0.8),(1.0,-0.75),(0.3,-0.27),(0.25,-0.4),(0.45,-0.22),
 (0.42,-1.1),(0.43,-1.25),(0.45,-1.15),(0.5,-1.05),(0.52,-1.2),(0.55,-1.12),(0.57,-1.3),(0.58,-1.05),(0.6,-1.18),(0.62,-1.1),(0.63,-1.25),(0.65,-1.05),(0.66,-1.18),(0.68,-1.3),(0.68,-1.1),(0.7,-1.2),(0.72,-1.05),(0.73,-1.25),(0.75,-1.12),(0.76,-1.3),(0.78,-1.18),(0.8,-1.05),(0.43,-1.4),(0.47,-1.5),(0.52,-1.45),(0.57,-1.48),
 (0.35,-1.65),(0.4,-1.62),(0.43,-1.7),(0.45,-1.58),(0.47,-1.8),(0.48,-1.95),(0.5,-1.68),(0.5,-2.08),(0.52,-1.88),(0.53,-1.75),(0.54,-2.02),(0.55,-1.6),(0.56,-2.12),(0.58,-2.05),(0.6,-2.15),(0.65,-1.55),(0.68,-2.2),(0.7,-1.6),(0.72,-2.15),(0.75,-1.72),(0.78,-1.8),(0.8,-2.05),(0.82,-1.9),(0.83,-2.12),(0.85,-2.0),(0.87,-2.12),(0.9,-2.05),(0.9,-2.2),(0.93,-2.1),(0.95,-2.22),(0.98,-2.1),(1.0,-2.05),(1.02,-2.2),(0.88,-2.4),(0.9,-2.5),(0.92,-2.55),(0.97,-2.48),
 (1.1,-2.35),(1.12,-2.5),(1.14,-2.6),(1.17,-2.4),(1.18,-2.55),(1.2,-2.65),(1.2,-2.3),(1.22,-2.05),(1.22,-2.45),(1.24,-1.95),(1.25,-2.62),(1.27,-2.35),(1.28,-2.7),(1.3,-2.05),(1.32,-2.68),(1.33,-2.15),(1.35,-2.0),(1.36,-2.25),(1.38,-2.1),(1.4,-2.3),(1.42,-2.2),(1.43,-2.72),(1.45,-2.4),(1.47,-2.68),(1.48,-2.3),(1.5,-2.6),(1.52,-2.5),(1.38,-2.85),(1.33,-2.9)]
D_M_CORE = [(-0.66,-0.1),(-0.6,-0.06),(-0.55,-0.1),(-0.68,-0.2),(-0.62,-0.2),(-0.56,-0.2),(-0.62,-0.32),(-0.6,0.0),(-0.66,-0.28),(-0.53,-0.02),(-0.36,-0.3),(-0.42,-0.28),(-0.3,-0.32),(-0.22,-0.1),(-0.24,-0.3),(-0.16,-0.32),(-0.08,-0.34),(-0.02,-0.36),(-0.26,-0.2),(-0.04,-0.26),(0.0,-0.6),(-0.02,-0.72),(-0.06,-0.9),(0.02,-0.9),(-0.03,-0.95),(0.06,-0.92),(-0.12,-0.92),(-0.02,-0.5),(1.17,-0.75),(1.2,-0.78),(1.22,-0.72),(1.15,-0.7)]
D_M_MID = [(-0.72,-0.1),(-0.74,-0.2),(-0.7,0.0),(-0.62,0.08),(-0.56,0.05),(-0.5,-0.05),(-0.49,-0.18),(-0.52,-0.32),(-0.58,-0.38),(-0.66,-0.32),(-0.46,-0.35),(-0.28,-0.2),(-0.18,-0.02),(-0.28,-0.42),(-0.18,-0.44),(-0.1,-0.22),(-0.08,-0.48),(0.06,-0.3),(0.05,-0.5),(-0.04,-0.5),(0.06,-0.68),(-0.1,-0.8),(0.1,-0.8),(-0.18,-0.92),(0.12,-0.9),(-0.1,-1.02),(0.0,-1.05),(0.08,-1.02),(1.07,-0.68),(1.05,-0.75),(1.3,-0.72),(1.28,-0.65),(1.12,-0.88),(1.2,-0.9),(1.28,-0.85),(1.0,-0.5),(1.06,-0.55),(1.12,-0.58),(0.95,-0.47),(1.2,-0.6)]
D_M_DOTS = [(-0.78,0.02),(-0.76,0.12),(-0.72,0.15),(-0.7,0.22),(-0.67,0.3),(-0.64,0.25),(-0.6,0.18),(-0.56,0.33),(-0.55,0.22),(-0.52,0.3),(-0.5,0.15),(-0.47,0.1),(-0.45,0.02),(-0.43,-0.08),(-0.4,-0.15),(-0.38,-0.05),(-0.35,0.02),(-0.32,-0.1),(-0.3,0.06),(-0.8,-0.25),(-0.78,-0.33),(-0.73,-0.4),(-0.7,-0.44),(-0.52,-0.47),(-0.43,-0.45),(-0.35,-0.48),(-0.12,-0.1),(-0.08,-0.18),(-0.05,-0.1),(0.0,-0.15),(0.03,-0.08),(0.06,-0.2),(0.1,-0.1),(0.12,-0.22),(0.15,-0.02),(0.17,-0.15),(0.1,-0.3),(0.14,-0.38),(0.18,-0.3),(0.2,-0.12),(0.22,-0.22),(0.24,-0.38),(0.25,0.02),(0.27,-0.15),(0.28,-0.3),(0.3,-0.1),(0.32,-0.22),(0.34,-0.45),(0.35,-0.05),(0.37,-0.3),(0.4,-0.15),(0.42,-0.42),(0.45,-0.28),(0.48,-0.12),(0.5,-0.35),(0.52,-0.2),(0.55,-0.05),(0.58,-0.3),(0.6,-0.15),(0.63,-0.42),(0.65,-0.25),(0.68,-0.07),(0.7,-0.35),(0.72,-0.15),(0.75,-0.28),(0.78,-0.1),(0.8,-0.4),(0.83,-0.25),(0.85,-0.35),(0.87,-0.48),(0.1,-0.45),(0.15,-0.55),(0.18,-0.5),(0.22,-0.6),(0.25,-0.5),(0.28,-0.7),(0.3,-0.55),(0.32,-0.62),(0.35,-0.72),(0.38,-0.58),(0.2,-0.8),(0.22,-0.95),(0.25,-0.88),(0.15,-0.68),(0.28,-0.9),(0.18,-1.0),(-0.28,-0.95),(-0.26,-0.82),(-0.24,-1.02),(-0.2,-0.78),(-0.2,-1.08),(-0.15,-1.1),(-0.05,-1.15),(0.0,-1.12),(0.03,-1.17),(0.12,-1.05),(0.22,-1.05),
 (0.9,-0.35),(0.92,-0.45),(0.95,-0.3),(0.97,-0.58),(1.0,-0.38),(1.02,-0.62),(1.03,-0.3),(1.05,-0.4),(1.08,-0.33),(1.1,-0.45),(1.12,-0.38),(1.14,-0.48),(1.17,-0.4),(1.2,-0.5),(1.22,-0.42),(1.25,-0.52),(1.27,-0.46),(1.3,-0.55),(1.33,-0.52),(1.36,-0.6),(1.38,-0.5),(1.4,-0.7),(1.42,-0.62),(1.44,-0.8),(1.4,-0.85),(1.35,-0.95),(1.3,-0.98),(1.25,-1.02),(1.2,-1.05),(1.15,-1.02),(1.08,-0.98),(1.03,-0.9),(0.98,-0.8),(0.95,-0.7),(1.0,-0.68),(1.45,-0.95),(1.5,-0.78)]

BLACK, RED, BLUE = "#000000", "#ff0000", "#0000ff"
GREEN, YELLOW, NAVY, GREY, MAGENTA = "#05a61f", "#f9e71c", "#012ca0", "#b9bab5", "#c210dc"

PANELS = {
    "A": dict(box=(382, 1907, 44, 1151), order=[("1", BLACK, A1_CORE, A1_MID, A1_DOTS), ("2", RED, A2_CORE, A2_MID, A2_DOTS), ("3", BLUE, A3_CORE, A3_MID, A3_DOTS)],
              legend=(1767, 52), tag=("A", 75, 1170), ystand=4),
    "B": dict(box=(2135, 3660, 37, 1146), order=[("1", BLACK, B1_CORE, B1_MID, B1_DOTS), ("2", RED, B2_CORE, B2_MID, B2_DOTS), ("3", BLUE, B3_CORE, B3_MID, B3_DOTS)],
              legend=(3527, 45), tag=("B", 3765, 1171), ystand=14),
    "C": dict(box=(396, 1923, 1270, 2380), order=[("1", BLACK, C1_CORE, C1_MID, C1_DOTS), ("3", BLUE, C3_CORE, C3_MID, C3_DOTS), ("2", RED, C2_CORE, C2_MID, C2_DOTS)],
              legend=(1782, 1277), tag=("C", 90, 2377), ystand=19),
    "D": dict(box=(2135, 3662, 1265, 2375), order=[("BA.5", NAVY, D_N_CORE, D_N_MID, D_N_DOTS), ("BA.2", GREEN, D_G_CORE, D_G_MID, D_G_DOTS), ("XBB", GREY, D_X_CORE, D_X_MID, D_X_DOTS), ("BA.2.75", YELLOW, D_Y_CORE, D_Y_MID, D_Y_DOTS), ("XBB.1.5", MAGENTA, D_M_CORE, D_M_MID, D_M_DOTS)],
              legend=(3425, 1274), tag=("D", 3787, 2367), ystand=14),
}
LEGEND_ORDER = {"A": LABELS_ABC, "B": LABELS_ABC, "C": LABELS_ABC, "D": LABELS_D}
FONT = "DejaVu Serif"
AXIS = "#5a5a5a"
TEXT = "#222222"
CW, CH = W - 2 * PAGE_MARGIN, H - 2 * PAGE_MARGIN


def px(v):
    return (v - PAGE_MARGIN) / CW


def py(v):
    return 1 - (v - PAGE_MARGIN) / CH


def rgba0(hex_color):
    return "rgba(%d,%d,%d,0)" % tuple(int(hex_color[k:k + 2], 16) for k in (1, 3, 5))


fig = go.Figure()
layout = dict(width=CW, height=CH, margin=dict(l=0, r=0, t=0, b=0, autoexpand=False), paper_bgcolor="white", plot_bgcolor="white", annotations=[])

for i, (name, p) in enumerate(PANELS.items()):
    s = "" if i == 0 else str(i + 1)
    xa, ya, lg = "x" + s, "y" + s, "legend" + s
    l, r, t, b = p["box"]
    common = dict(showgrid=False, zeroline=False, showline=True, linecolor=AXIS, linewidth=2, mirror="allticks",
                  ticks="inside", ticklen=9, tickwidth=2, tickcolor=AXIS, tickfont=dict(family=FONT, size=25, color=TEXT),
                  minor=dict(ticks="inside", ticklen=5, tickwidth=1.5, tickcolor=AXIS, dtick=0.2, showgrid=False))
    layout["xaxis" + s] = dict(common, domain=[px(l), px(r)], range=[-2, 3], tickvals=X_TICKS, anchor="y" + s,
                               title=dict(text="t-IC 1", font=dict(family=FONT, size=54, color=TEXT), standoff=9))
    layout["yaxis" + s] = dict(common, domain=[py(b), py(t)], range=[-3, 4], tickvals=Y_TICKS, anchor="x" + s,
                               title=dict(text="t-IC 2", font=dict(family=FONT, size=54, color=TEXT), standoff=p["ystand"]))
    colors = {}
    for label, color, core, mid, dots in p["order"]:
        colors[label] = color
        clear = rgba0(color)
        layers = [
            (mid, dict(color=clear, size=52, opacity=0.65, gradient=dict(type="radial", color=color))),
            (core, dict(color=clear, size=60, opacity=1.0, gradient=dict(type="radial", color=color))),
            (core, dict(color=color, size=32, opacity=1.0)),
            (dots, dict(color=color, size=4, opacity=0.85)),
        ]
        for pts, style in layers:
            fig.add_trace(go.Scatter(x=[q[0] for q in pts], y=[q[1] for q in pts], mode="markers", xaxis=xa, yaxis=ya,
                                     marker=dict(line=dict(width=0), **style),
                                     showlegend=False, name=label, hoverinfo="skip"))
    for label in LEGEND_ORDER[name]:
        fig.add_trace(go.Scatter(x=[None], y=[None], mode="markers", name=label, legend=lg, legendgroup=name + label, xaxis=xa, yaxis=ya,
                                 marker=dict(size=16, color=colors[label], line=dict(width=4, color=colors[label]))))
    lx, ly = p["legend"]
    layout[lg] = dict(x=px(lx), y=py(ly), xanchor="left", yanchor="top", bgcolor="rgba(0,0,0,0)", itemwidth=90,
                      font=dict(family=FONT, size=26.5, color=TEXT), tracegroupgap=0, itemclick=False, itemdoubleclick=False)
    tag, tx, ty = p["tag"]
    layout["annotations"].append(dict(text="<b>" + tag + "</b>", xref="paper", yref="paper", x=px(tx), y=py(ty), showarrow=False,
                                      xanchor="center", yanchor="middle", font=dict(family="Liberation Sans", size=144, color="black")))

fig.update_layout(**layout)
fig.write_html("out.html")
